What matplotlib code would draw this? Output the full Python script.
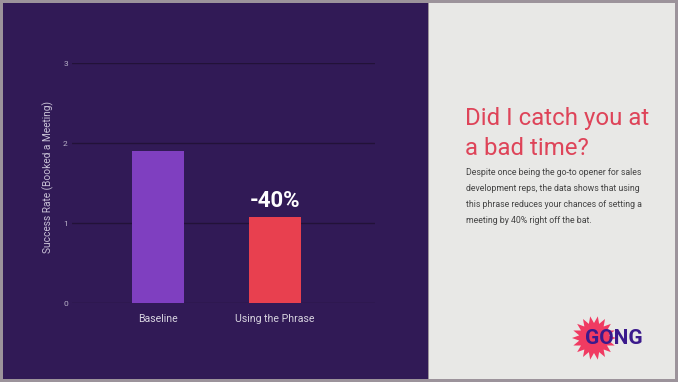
import matplotlib.pyplot as plt
import numpy as np
from matplotlib.patches import Rectangle, Polygon

plt.rcParams['font.family'] = ['Roboto', 'DejaVu Sans']

categories = ['Baseline', 'Using the Phrase']
values = [1.9, 1.07]
bar_colors = ['#7f3fc0', '#e8404f']
yticks = [0, 1, 2, 3]
change_label = '-40%'

title = 'Did I catch you at\na bad time?'
body = ('Despite once being the go-to opener for sales\n'
        'development reps, the data shows that using\n'
        'this phrase reduces your chances of setting a\n'
        'meeting by 40% right off the bat.')

W, H = 678, 382
fig = plt.figure(figsize=(W / 100, H / 100), dpi=100)
fig.patch.set_facecolor('#9c939b')

# panels
fig.patches.append(Rectangle((3 / W, 3 / H), 425 / W, 376 / H, transform=fig.transFigure,
                             facecolor='#311a56', edgecolor='none', zorder=-2))
fig.patches.append(Rectangle((429 / W, 3 / H), 246 / W, 376 / H, transform=fig.transFigure,
                             facecolor='#e8e8e6', edgecolor='none', zorder=-2))

ax = fig.add_axes([72 / W, 1 - 303 / H, 303 / W, 240 / H])
ax.set_zorder(2)
ax.set_facecolor('none')
x = np.arange(len(categories))
bars = ax.bar(x, values, width=0.44, color=bar_colors, zorder=3)
ax.set_xlim(-0.735, 1.855)
ax.set_ylim(0, 3)
ax.set_yticks(yticks)
ax.set_yticklabels([str(t) for t in yticks])
ax.set_xticks(x)
ax.set_xticklabels(categories)
ax.grid(axis='y', color='#221238', linewidth=1, zorder=0)
for s in ax.spines.values():
    s.set_visible(False)
ax.tick_params(axis='y', length=0, labelsize=6, labelcolor='#b9b2c8', pad=3)
ax.tick_params(axis='x', length=0, labelsize=7.6, labelcolor='#d8d4e0', pad=8)
ax.set_ylabel('Success Rate (Booked a Meeting)', fontsize=7.3, color='#c9c2d6')
ax.yaxis.set_label_coords(-0.058, 0.525)

b = bars[1]
ax.text(b.get_x() + b.get_width() / 2, b.get_height() + 0.07, change_label,
        ha='center', va='bottom', fontsize=16, fontweight='bold', color='white')

# right panel text
fig.text(465 / W, 1 - 107 / H, title, ha='left', va='top', fontsize=17.3,
         color='#de4459', linespacing=1.4)
fig.text(466 / W, 1 - 168 / H, body, ha='left', va='top', fontsize=6.3,
         color='#444444', linespacing=2.0)

# logo
cx, cy = 594, 338
n = 18
ang = np.linspace(0, 2 * np.pi, 2 * n, endpoint=False)
rad = np.where(np.arange(2 * n) % 2 == 0, 22, 15)
px = (cx + rad * np.cos(ang)) / W
py = 1 - (cy - rad * np.sin(ang)) / H
fig.patches.append(Polygon(np.column_stack([px, py]), closed=True, transform=fig.transFigure,
                           facecolor='#f03b62', edgecolor='none', zorder=1))
fig.text(585 / W, 1 - 339 / H, 'GONG', ha='left', va='center', fontsize=15,
         fontweight='bold', color='#3b1a8c', zorder=2)

fig.savefig('out.png', dpi=100, facecolor=fig.get_facecolor())
